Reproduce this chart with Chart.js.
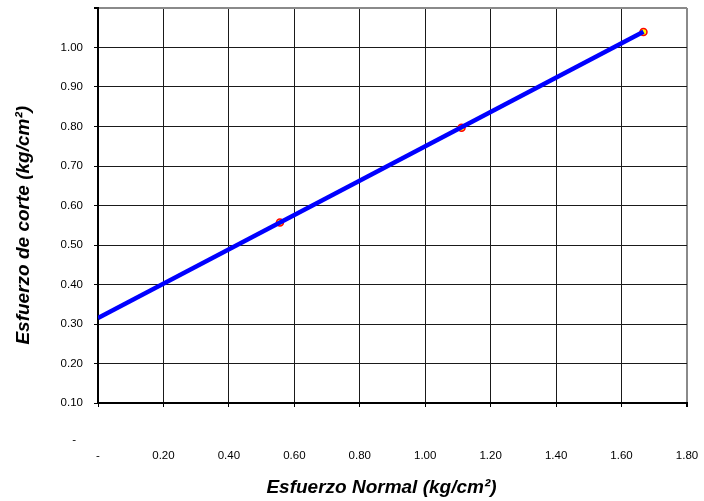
<!DOCTYPE html>
<html>
<head>
<meta charset="utf-8">
<script src="https://cdn.jsdelivr.net/npm/chart.js@4"></script>
<style>
html,body{margin:0;padding:0;background:#fff;}
#wrap{width:704px;height:501px;position:relative;}
</style>
</head>
<body>
<div id="wrap"><canvas id="c" width="704" height="501"></canvas></div>
<script>
// Measured test points
const normalStress = [0.556, 1.111, 1.667];
const shearStress = [0.557, 0.797, 1.039];
// Fitted failure envelope (endpoints)
const envelopeX = [0, 1.667];
const envelopeY = [0.315, 1.040];
// Axis ranges / labels
const xTicks = [0, 0.2, 0.4, 0.6, 0.8, 1.0, 1.2, 1.4, 1.6, 1.8];
const yTicks = [0.1, 0.2, 0.3, 0.4, 0.5, 0.6, 0.7, 0.8, 0.9, 1.0, 1.1];
const xTitle = 'Esfuerzo Normal (kg/cm²)';
const yTitle = 'Esfuerzo de corte (kg/cm²)';
const zeroLabel = '-';

const FONT = "'Liberation Sans', Arial, sans-serif";

const extraText = {
  id: 'extraText',
  afterDraw(chart) {
    const xs = chart.scales.x, ys = chart.scales.y;
    const ctx = chart.ctx;
    ctx.save();
    // zero label of the vertical axis
    ctx.font = '11.5px ' + FONT;
    ctx.fillStyle = '#000';
    ctx.textAlign = 'right';
    ctx.textBaseline = 'middle';
    ctx.fillText(zeroLabel, ys.right - 22, ys.getPixelForValue(0) - 3);
    // axis titles
    ctx.font = 'italic bold 19px ' + FONT;
    ctx.textAlign = 'center';
    ctx.textBaseline = 'alphabetic';
    ctx.fillText(xTitle, (xs.left + xs.right) / 2 - 11, xs.bottom - 8);
    const yMid = (ys.getPixelForValue(0) + ys.top) / 2;
    ctx.translate(ys.left + 29, yMid);
    ctx.rotate(-Math.PI / 2);
    ctx.fillText(yTitle, 0, 0);
    ctx.restore();
  }
};

new Chart(document.getElementById('c'), {
  type: 'scatter',
  data: {
    datasets: [
      {
        label: 'Envolvente',
        data: envelopeX.map((x, i) => ({x: x, y: envelopeY[i]})),
        showLine: true,
        borderColor: '#0000ff',
        borderWidth: 4.5,
        pointRadius: 0,
        fill: false
      },
      {
        label: 'Ensayos',
        data: normalStress.map((x, i) => ({x: x, y: shearStress[i]})),
        showLine: false,
        pointRadius: 3.5,
        pointBorderWidth: 1.5,
        pointBorderColor: '#ff0000',
        pointBackgroundColor: '#ffff00'
      }
    ]
  },
  plugins: [extraText],
  options: {
    responsive: false,
    animation: false,
    layout: {padding: {left: 0, right: 17, top: 8, bottom: 0}},
    plugins: {legend: {display: false}, tooltip: {enabled: false}},
    scales: {
      x: {
        type: 'linear',
        min: 0, max: 1.8,
        afterBuildTicks(s) { s.ticks = xTicks.map(v => ({value: v})); },
        afterFit(s) { s.height = 98; s.paddingLeft = 0; s.paddingRight = 0; },
        ticks: {
          padding: 42,
          maxRotation: 0,
          autoSkip: false,
          color: '#000',
          font: {family: FONT, size: 11.5},
          callback: v => (Math.abs(v) < 1e-9 ? zeroLabel : Number(v).toFixed(2))
        },
        grid: {
          color: ctx => (ctx.tick && Math.abs(ctx.tick.value - 1.8) < 1e-9 ? '#8a8a8a' : '#1a1a1a'),
          lineWidth: ctx => (ctx.tick && Math.abs(ctx.tick.value - 1.8) < 1e-9 ? 2 : 1),
          tickColor: '#000',
          tickLength: 4,
          drawTicks: true
        },
        border: {display: true, color: '#000', width: 2},
        title: {display: false}
      },
      y: {
        type: 'linear',
        min: 0.1, max: 1.1,
        afterBuildTicks(s) { s.ticks = yTicks.map(v => ({value: v})); },
        afterFit(s) { s.width = 98; s.paddingTop = 0; s.paddingBottom = 0; },
        ticks: {
          padding: 11,
          autoSkip: false,
          color: '#000',
          font: {family: FONT, size: 11.5},
          callback: v => (Math.abs(v - 1.1) < 1e-9 ? '' : Number(v).toFixed(2))
        },
        grid: {
          color: ctx => (ctx.tick && Math.abs(ctx.tick.value - 1.1) < 1e-9 ? '#8a8a8a' : '#1a1a1a'),
          lineWidth: ctx => (ctx.tick && Math.abs(ctx.tick.value - 1.1) < 1e-9 ? 2 : 1),
          tickColor: '#000',
          tickLength: 4,
          drawTicks: true
        },
        border: {display: true, color: '#000', width: 2},
        title: {display: false}
      }
    }
  }
});
</script>
</body>
</html>
